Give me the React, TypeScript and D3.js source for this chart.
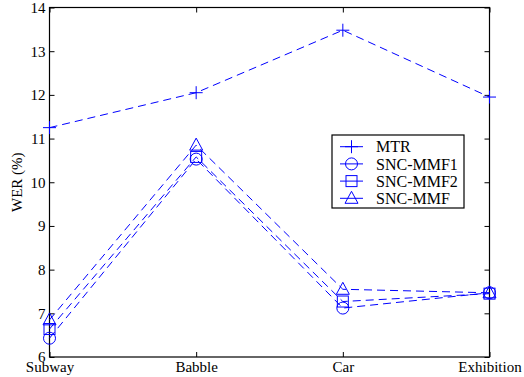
import React, { useEffect, useRef } from "react";
import * as d3 from "d3";

const categories = ["Subway", "Babble", "Car", "Exhibition"];
const seriesNames = ["MTR", "SNC-MMF1", "SNC-MMF2", "SNC-MMF"];
const mtr = [11.25, 12.05, 13.48, 11.95];
const sncMmf1 = [6.43, 10.53, 7.12, 7.47];
const sncMmf2 = [6.64, 10.58, 7.27, 7.45];
const sncMmf = [6.85, 10.85, 7.55, 7.47];
const yTicks = [6, 7, 8, 9, 10, 11, 12, 13, 14];

const markers = ["plus", "circle", "square", "triangle"];

const drawMarker = (g, type, cx, cy, color) => {
  if (type === "plus") {
    g.append("path").attr("d", `M${cx - 6.5},${cy}H${cx + 6.5}M${cx},${cy - 6.5}V${cy + 6.5}`)
      .attr("stroke", color).attr("stroke-width", 1).attr("fill", "none");
  } else if (type === "circle") {
    g.append("circle").attr("cx", cx).attr("cy", cy).attr("r", 6)
      .attr("stroke", color).attr("stroke-width", 1).attr("fill", "none");
  } else if (type === "square") {
    g.append("rect").attr("x", cx - 5.5).attr("y", cy - 5.5).attr("width", 11).attr("height", 11)
      .attr("stroke", color).attr("stroke-width", 1).attr("fill", "none");
  } else {
    g.append("path").attr("d", `M${cx},${cy - 7}L${cx + 6.5},${cy + 5}L${cx - 6.5},${cy + 5}Z`)
      .attr("stroke", color).attr("stroke-width", 1).attr("fill", "none");
  }
};

const App = () => {
  const chart = useRef(null);

  useEffect(() => {
    const width = 524, height = 377;
    const margin = { top: 7.5, right: 34.5, bottom: 20, left: 49.5 };
    const font = "Liberation Serif, Times New Roman, serif";
    const blue = "#0000ff";

    const svg = d3.select(chart.current)
      .attr("width", width)
      .attr("height", height)
      .style("font-family", font);
    svg.selectAll("*").remove();

    svg.append("rect").attr("width", width).attr("height", height).attr("fill", "#fff");

    const x = d3.scalePoint()
      .domain(categories)
      .range([margin.left, width - margin.right]);

    const y = d3.scaleLinear()
      .domain([6, 14])
      .range([height - margin.bottom, margin.top]);

    const x0 = x.range()[0], x1 = x.range()[1];
    const y0 = y.range()[0], y1 = y.range()[1];

    // axes (ticks pointing inward, MATLAB style)
    const left = svg.append("g")
      .attr("transform", `translate(${x0},0)`)
      .call(d3.axisLeft(y).tickValues(yTicks).tickSize(-5).tickSizeOuter(0).tickPadding(4));
    const bottom = svg.append("g")
      .attr("transform", `translate(0,${y0})`)
      .call(d3.axisBottom(x).tickSize(-5).tickSizeOuter(0).tickPadding(4));
    const right = svg.append("g")
      .attr("transform", `translate(${x1},0)`)
      .call(d3.axisRight(y).tickValues(yTicks).tickSize(-5).tickSizeOuter(0).tickFormat(() => ""));
    const top = svg.append("g")
      .attr("transform", `translate(0,${y1})`)
      .call(d3.axisTop(x).tickSize(-5).tickSizeOuter(0).tickFormat(() => ""));

    ;[left, bottom, right, top].forEach(a => {
      a.attr("font-family", null).attr("font-size", null);
      a.select(".domain").remove();
      a.selectAll("line").attr("stroke", "#000");
      a.selectAll("text").style("font-family", font).style("font-size", "15px").attr("fill", "#000");
    });

    svg.append("rect")
      .attr("x", x0).attr("y", y1)
      .attr("width", x1 - x0).attr("height", y0 - y1)
      .attr("fill", "none").attr("stroke", "#000").attr("stroke-width", 1.2);

    svg.append("text")
      .attr("transform", `translate(22,${(y0 + y1) / 2}) rotate(-90)`)
      .attr("text-anchor", "middle")
      .style("font-family", font).style("font-size", "15px")
      .text("WER (%)");

    const series = [mtr, sncMmf1, sncMmf2, sncMmf];
    const line = d3.line()
      .x((d, i) => x(categories[i]))
      .y(d => y(d));

    series.forEach((values, s) => {
      svg.append("path")
        .datum(values)
        .attr("d", line)
        .attr("fill", "none")
        .attr("stroke", blue)
        .attr("stroke-width", 1)
        .attr("stroke-dasharray", "8,5");
      const mg = svg.append("g");
      values.forEach((v, i) => drawMarker(mg, markers[s], x(categories[i]), y(v), blue));
    });

    // legend
    const legend = svg.append("g").attr("transform", "translate(332,135)");
    legend.append("rect")
      .attr("width", 132).attr("height", 73)
      .attr("fill", "#fff").attr("stroke", "#000").attr("stroke-width", 1.2);
    seriesNames.forEach((name, i) => {
      const ly = 11.7 + i * 17.2;
      legend.append("line")
        .attr("x1", 8).attr("x2", 31).attr("y1", ly).attr("y2", ly)
        .attr("stroke", blue).attr("stroke-width", 1);
      drawMarker(legend, markers[i], 19.5, ly, blue);
      legend.append("text")
        .attr("x", 44).attr("y", ly).attr("dy", "0.35em")
        .style("font-family", font).style("font-size", "16px")
        .text(name);
    });
  }, []);

  return (
    <div style={{ position: "absolute", left: 0, top: 0 }}>
      <svg ref={chart} style={{ display: "block" }} />
    </div>
  );
};

export default App;
